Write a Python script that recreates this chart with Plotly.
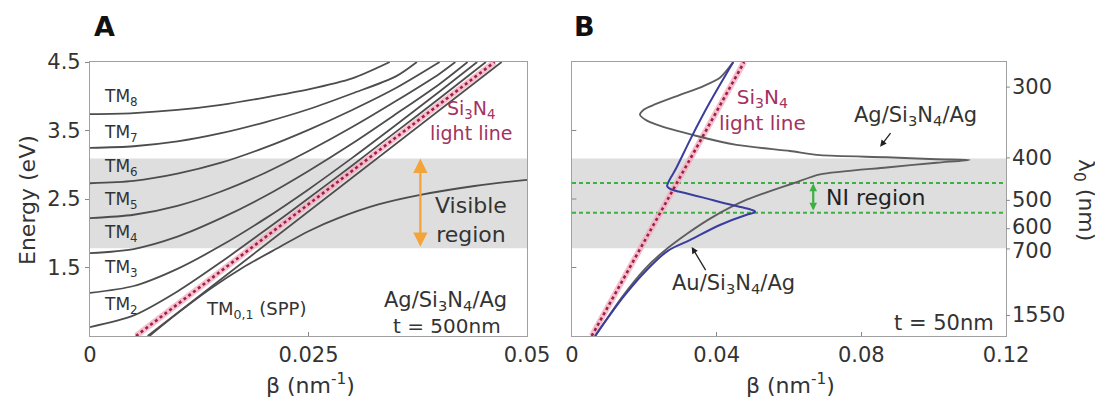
import plotly.graph_objects as go

# browser body has an 8px default margin -> figure drawn at (8, 8)
OFF = 8
W, H = 1103 - OFF, 399 - OFF

# ---------------- Panel A data (beta in nm^-1, energy in eV) ----------------
tm8_beta = [0, 0.005, 0.01, 0.015, 0.02, 0.025, 0.03, 0.0343]
tm8_E = [3.74, 3.755, 3.80, 3.875, 3.98, 4.10, 4.26, 4.50]
tm7_beta = [0, 0.005, 0.01, 0.015, 0.02, 0.025, 0.03, 0.035, 0.0374]
tm7_E = [3.245, 3.27, 3.34, 3.46, 3.62, 3.81, 4.04, 4.29, 4.50]
tm6_beta = [0, 0.005, 0.01, 0.015, 0.02, 0.025, 0.03, 0.035, 0.040]
tm6_E = [2.73, 2.765, 2.87, 3.03, 3.25, 3.51, 3.80, 4.12, 4.50]
tm5_beta = [0, 0.005, 0.01, 0.015, 0.02, 0.025, 0.03, 0.035, 0.04, 0.0418]
tm5_E = [2.22, 2.27, 2.40, 2.61, 2.88, 3.20, 3.55, 3.93, 4.33, 4.50]
tm4_beta = [0, 0.005, 0.01, 0.015, 0.02, 0.025, 0.03, 0.035, 0.04, 0.0432]
tm4_E = [1.71, 1.77, 1.95, 2.22, 2.54, 2.91, 3.31, 3.74, 4.18, 4.50]
tm3_beta = [0, 0.005, 0.01, 0.015, 0.02, 0.025, 0.03, 0.035, 0.04, 0.0443]
tm3_E = [1.13, 1.23, 1.48, 1.82, 2.21, 2.64, 3.10, 3.58, 4.07, 4.50]
tm2_beta = [0, 0.005, 0.01, 0.015, 0.02, 0.025, 0.03, 0.035, 0.04, 0.0453]
tm2_E = [0.63, 0.80, 1.15, 1.58, 2.04, 2.51, 2.99, 3.48, 3.97, 4.50]
tm1_beta = [0.0066, 0.0471]
tm1_E = [0.5, 4.5]
tm0_beta = [0.0068, 0.0100, 0.0139, 0.0175, 0.0217, 0.0250, 0.0284, 0.0330, 0.0378, 0.0440, 0.0500]
tm0_E = [0.5, 0.83, 1.20, 1.50, 1.80, 2.03, 2.22, 2.42, 2.56, 2.69, 2.78]
lightA_beta = [0.00526, 0.0463]
lightA_E = [0.5, 4.5]

tm_labels = ["TM<sub>8</sub>", "TM<sub>7</sub>", "TM<sub>6</sub>", "TM<sub>5</sub>",
             "TM<sub>4</sub>", "TM<sub>3</sub>", "TM<sub>2</sub>"]

visible_band = [1.78, 3.09]   # eV (700 nm .. 400 nm)
energy_ticks = [1.5, 2.5, 3.5, 4.5]

# ---------------- Panel B data ----------------
lightB_beta = [0.00544, 0.0476]
lightB_E = [0.5, 4.5]
au_beta = [0.0064, 0.0142, 0.0206, 0.0264, 0.0326, 0.0409, 0.0483, 0.0503, 0.0506, 0.0495,
           0.0470, 0.0428, 0.0363, 0.0310, 0.0284, 0.0269, 0.0263, 0.0266, 0.0274, 0.0288,
           0.0330, 0.0380, 0.0446]
au_E = [0.5, 1.07, 1.46, 1.74, 1.90, 2.12, 2.27, 2.30, 2.32, 2.345,
        2.38, 2.43, 2.52, 2.59, 2.625, 2.655, 2.69, 2.74, 2.82, 2.95,
        3.40, 3.90, 4.5]
ag_beta = [0.0064, 0.0140, 0.0200, 0.0250, 0.0320, 0.0390, 0.0483, 0.0612, 0.0686, 0.0870,
           0.1008, 0.1099, 0.1008, 0.0870, 0.0686, 0.0603, 0.0455, 0.0345, 0.0234, 0.0202,
           0.0188, 0.0200, 0.0229, 0.0299, 0.0362, 0.0409, 0.0446]
ag_E = [0.5, 1.08, 1.47, 1.72, 2.00, 2.24, 2.49, 2.73, 2.86, 2.96,
        3.03, 3.07, 3.08, 3.11, 3.14, 3.20, 3.29, 3.42, 3.585, 3.66,
        3.73, 3.81, 3.88, 4.02, 4.145, 4.27, 4.5]
ni_band = [2.30, 2.735]   # eV
wavelength_ticks = [300, 400, 500, 600, 700, 1550]   # nm
wavelength_label_shift = [0, 0, 0, 2, -2, 0]          # px nudge for the tight 600/700 pair
b_left_ticks = [1.5, 2.5, 3.5]

FONT = "DejaVu Sans, Liberation Sans, Arial, sans-serif"
TXT = "#333333"
LINE = "#4d4d4d"
CRIMSON = "#a3325e"
FRAME = "#a0a0a0"

fig = go.Figure()


def curve(x, y, xa, ya, color=LINE, width=1.8, shape="spline", smoothing=0.8):
    fig.add_trace(go.Scatter(x=x, y=y, mode="lines", xaxis=xa, yaxis=ya,
                             line=dict(color=color, width=width, shape=shape, smoothing=smoothing),
                             hoverinfo="skip", showlegend=False))


def light_line(x, y, xa, ya):
    fig.add_trace(go.Scatter(x=x, y=y, mode="lines", xaxis=xa, yaxis=ya,
                             line=dict(color="rgba(242,170,190,0.75)", width=6),
                             hoverinfo="skip", showlegend=False))
    fig.add_trace(go.Scatter(x=x, y=y, mode="lines", xaxis=xa, yaxis=ya,
                             line=dict(color="#9e1f45", width=2.6, dash="dot"),
                             hoverinfo="skip", showlegend=False))


# Panel A
for bx, ey in [(tm8_beta, tm8_E), (tm7_beta, tm7_E), (tm6_beta, tm6_E), (tm5_beta, tm5_E),
               (tm4_beta, tm4_E), (tm3_beta, tm3_E), (tm2_beta, tm2_E)]:
    curve(bx, ey, "x", "y")
light_line(lightA_beta, lightA_E, "x", "y")
curve(tm1_beta, tm1_E, "x", "y", shape="linear")
curve(tm0_beta, tm0_E, "x", "y")

# Panel B
for lo in ni_band:
    fig.add_trace(go.Scatter(x=[0, 0.12], y=[lo, lo], mode="lines", xaxis="x2", yaxis="y2",
                             line=dict(color="#3cb043", width=2, dash="4px,3px"),
                             hoverinfo="skip", showlegend=False))
light_line(lightB_beta, lightB_E, "x2", "y2")
curve(ag_beta, ag_E, "x2", "y2", color="#5e5e5e", width=1.9, smoothing=0.7)
curve(au_beta, au_E, "x2", "y2", color="#3a3d9e", width=2.0, smoothing=0.9)

# shading and small ticks
shapes = []
for xr, yr, x1 in [("x", "y", 0.05), ("x2", "y2", 0.12)]:
    shapes.append(dict(type="rect", xref=xr, yref=yr, x0=0, x1=x1,
                       y0=visible_band[0], y1=visible_band[1],
                       fillcolor="#dedede", line=dict(width=0), layer="below"))
for e in b_left_ticks:
    shapes.append(dict(type="line", xref="x2 domain", yref="y2", x0=0, x1=0.01, y0=e, y1=e,
                       line=dict(color="#888", width=1)))
for lam in wavelength_ticks:
    shapes.append(dict(type="line", xref="x2 domain", yref="y2", x0=1, x1=1.009,
                       y0=1240.0 / lam, y1=1240.0 / lam, line=dict(color="#888", width=1)))


def px(x):
    return (x - OFF) / W


def py(y):
    return 1 - (y - OFF) / H


ann = []


def text(x, y, s, size=21, color=TXT, xanchor="center", angle=0):
    ann.append(dict(x=px(x), y=py(y), xref="paper", yref="paper", text=s, showarrow=False,
                    xanchor=xanchor, yanchor="middle", textangle=angle,
                    font=dict(family=FONT, size=size, color=color)))


text(104, 27, "<b>A</b>", size=27, color="#111")
text(584, 27, "<b>B</b>", size=27, color="#111")
text(27, 200, "Energy (eV)", size=22, angle=-90)
text(311, 384, "β (nm<sup>-1</sup>)", size=22)
text(790, 384, "β (nm<sup>-1</sup>)", size=22)
text(1085, 200, "λ<sub>0</sub> (nm)", size=22, angle=90)

# right-hand wavelength tick labels (energy axis shown in nm)
for lam, sh in zip(wavelength_ticks, wavelength_label_shift):
    ann.append(dict(x=px(1011), y=1240.0 / lam, xref="paper", yref="y2", text=str(lam),
                    showarrow=False, xanchor="left", yanchor="middle", yshift=sh,
                    borderpad=0, font=dict(family=FONT, size=21, color=TXT)))

for lab, yy in zip(tm_labels, [98, 133, 167, 200, 234, 268, 305]):
    text(102, yy, lab, size=17, xanchor="left")
text(204, 310, "TM<sub>0,1</sub> (SPP)", size=18, xanchor="left")
text(471, 121, "Si<sub>3</sub>N<sub>4</sub><br>light line", size=19, color=CRIMSON)
text(471, 220, "Visible<br>region", size=22)
text(445, 301, "Ag/Si<sub>3</sub>N<sub>4</sub>/Ag", size=21)
text(447, 326, "t = 500nm", size=20)

text(762, 110, "Si<sub>3</sub>N<sub>4</sub><br>light line", size=20, color=CRIMSON)
text(915, 116, "Ag/Si<sub>3</sub>N<sub>4</sub>/Ag", size=21)
text(824, 198, "NI region", size=22, xanchor="left", color="#222")
text(733, 284, "Au/Si<sub>3</sub>N<sub>4</sub>/Ag", size=21)
text(944, 323, "t = 50nm", size=21)

# arrows
ann.append(dict(x=0.0378, y=visible_band[1], ax=0.0378, ay=visible_band[0],
                xref="x", yref="y", axref="x", ayref="y", text="", showarrow=True,
                arrowhead=2, arrowsize=1.3, arrowwidth=2.2, arrowcolor="#f2a33a",
                arrowside="end+start"))
ann.append(dict(x=0.0667, y=ni_band[1] - 0.01, ax=0.0667, ay=ni_band[0] + 0.01,
                xref="x2", yref="y2", axref="x2", ayref="y2", text="", showarrow=True,
                arrowhead=2, arrowsize=0.7, arrowwidth=2.2, arrowcolor="#3cb043",
                arrowside="end+start"))
ann.append(dict(x=0.0852, y=3.264, ax=0.0884, ay=3.483,
                xref="x2", yref="y2", axref="x2", ayref="y2", text="", showarrow=True,
                arrowhead=2, arrowsize=1.0, arrowwidth=1.3, arrowcolor="#222"))
ann.append(dict(x=0.0331, y=1.80, ax=0.0372, ay=1.44,
                xref="x2", yref="y2", axref="x2", ayref="y2", text="", showarrow=True,
                arrowhead=2, arrowsize=1.0, arrowwidth=1.3, arrowcolor="#222"))

ydom = [py(336), py(62)]
axis_common = dict(showgrid=False, zeroline=False, showline=True, linecolor=FRAME,
                   linewidth=1.2, mirror=True, tickcolor="#888", ticklen=4,
                   automargin=False, tickfont=dict(family=FONT, size=21, color=TXT))

fig.update_layout(
    template="none",
    width=W, height=H, margin=dict(l=0, r=0, t=0, b=0, pad=0), autosize=False,
    paper_bgcolor="white", plot_bgcolor="white", showlegend=False,
    shapes=shapes, annotations=ann,
    xaxis=dict(domain=[px(90), px(527)], range=[0, 0.05], anchor="y", ticks="inside",
               tickvals=[0, 0.025, 0.05], ticktext=["0", "0.025", "0.05"], **axis_common),
    yaxis=dict(domain=ydom, range=[0.5, 4.5], anchor="x", ticks="outside",
               tickvals=energy_ticks, ticktext=[str(v) for v in energy_ticks],
               **axis_common),
    xaxis2=dict(domain=[px(572), px(1006)], range=[0, 0.12], anchor="y2", ticks="inside",
                tickvals=[0, 0.04, 0.08, 0.12], ticktext=["0", "0.04", "0.08", "0.12"],
                **axis_common),
    yaxis2=dict(domain=ydom, range=[0.5, 4.5], anchor="x2", ticks="",
                showticklabels=False, **axis_common),
)

fig.write_html("out.html")
